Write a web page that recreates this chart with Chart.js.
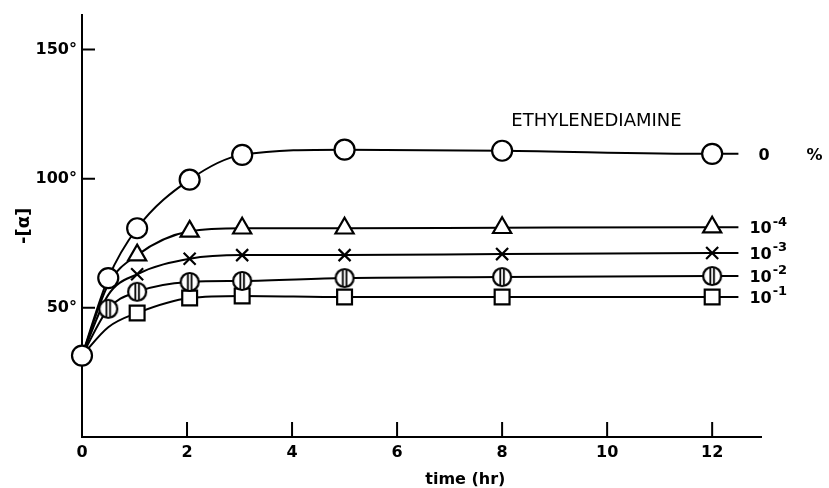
<!DOCTYPE html>
<html>
<head>
<meta charset="utf-8">
<script src="https://cdn.jsdelivr.net/npm/chart.js@4/dist/chart.umd.min.js"></script>
<style>
  body { margin: 0; background: #fff; }
</style>
</head>
<body>
<canvas id="myChart" width="829" height="488"></canvas>
<script>
// time in hours (marker columns) and where the drawn curves stop
var timeHr = [0, 0.5, 1.05, 2.05, 3.05, 5, 8, 12];
var lineEndHr = 12.5;

// -[alpha] in degrees, one array per ethylenediamine concentration
// null = curve does not pass that column
var rot0pct = [31.5, 61.5, 80.8, 99.6, 109.2, 111.2, 110.8, 109.6];
var rot1e4  = [31.5, 59.0, 70.4, 79.6, 80.8, 80.8, 81.0, 81.2];
var rot1e3  = [31.5, 55.0, 63.0, 69.0, 70.4, 70.4, 70.8, 71.2];
var rot1e2  = [31.5, 49.6, 56.2, 60.0, 60.4, 61.5, 61.9, 62.3];
var rot1e1  = [31.5, 42.5, 48.0, 53.8, 54.6, 54.2, 54.2, 54.2];

// first column that carries a drawn symbol for each series
var firstMarker = [0, 2, 2, 1, 2];
var concLabels = ["0", "-4", "-3", "-2", "-1"];

var xTicks = [0, 2, 4, 6, 8, 10, 12];
var yTicks = [50, 100, 150];

Chart.defaults.font.family = "'DejaVu Sans', sans-serif";
Chart.defaults.font.weight = 'bold';
Chart.defaults.color = "#000";

function barredCircle(r) {
    var s = Math.ceil(r * 2 + 4);
    var c = document.createElement('canvas');
    c.width = s; c.height = s;
    var g = c.getContext('2d');
    g.lineWidth = 2.2;
    g.strokeStyle = "#000";
    g.fillStyle = "#fff";
    g.beginPath();
    g.arc(s / 2, s / 2, r, 0, Math.PI * 2);
    g.fill();
    g.stroke();
    g.lineWidth = 1.8;
    g.beginPath();
    g.moveTo(s / 2 - 1.8, s / 2 - r); g.lineTo(s / 2 - 1.8, s / 2 + r);
    g.moveTo(s / 2 + 1.8, s / 2 - r); g.lineTo(s / 2 + 1.8, s / 2 + r);
    g.stroke();
    return c;
}

var series = [rot0pct, rot1e4, rot1e3, rot1e2, rot1e1];
var styles = [
    { pointStyle: 'circle', pointRadius: 10, order: 2 },
    { pointStyle: 'triangle', pointRadius: 10.5, order: 2 },
    { pointStyle: 'crossRot', pointRadius: 8.5, order: 2 },
    { pointStyle: barredCircle(9), pointRadius: 10, order: 1 },
    { pointStyle: 'rect', pointRadius: 10.5, order: 1.5 }
];

var datasets = [];
// the curves
series.forEach(function (vals) {
    var pts = [];
    vals.forEach(function (v, i) {
        if (v !== null) pts.push({ x: timeHr[i], y: v });
    });
    pts.push({ x: lineEndHr, y: vals[vals.length - 1] });
    datasets.push({
        data: pts,
        borderColor: "#000",
        borderWidth: 2,
        pointRadius: 0,
        cubicInterpolationMode: 'monotone',
        clip: false,
        order: 5
    });
});
// the symbols on top
series.forEach(function (vals, k) {
    var pts = [];
    vals.forEach(function (v, i) {
        if (v !== null && i >= firstMarker[k]) pts.push({ x: timeHr[i], y: v });
    });
    datasets.push({
        data: pts,
        showLine: false,
        pointStyle: styles[k].pointStyle,
        pointRadius: styles[k].pointRadius,
        pointBorderColor: "#000",
        pointBackgroundColor: "#fff",
        pointBorderWidth: 2.2,
        clip: false,
        order: styles[k].order
    });
});

var extras = {
    id: 'extras',
    beforeDatasetsDraw: function (chart) {
        var ctx = chart.ctx, area = chart.chartArea;
        var x = chart.scales.x, y = chart.scales.y;
        ctx.save();
        ctx.strokeStyle = "#000";
        ctx.lineWidth = 2;
        ctx.beginPath();
        xTicks.forEach(function (t) {
            if (t === 0) return;
            var px = x.getPixelForValue(t);
            ctx.moveTo(px, area.bottom);
            ctx.lineTo(px, area.bottom - 15);
        });
        yTicks.forEach(function (t) {
            var py = y.getPixelForValue(t);
            ctx.moveTo(area.left, py);
            ctx.lineTo(area.left + 13, py);
        });
        ctx.stroke();
        ctx.restore();
    },
    afterDraw: function (chart) {
        var ctx = chart.ctx;
        var x = chart.scales.x, y = chart.scales.y;
        var lx = x.getPixelForValue(lineEndHr) + 11;
        ctx.save();
        ctx.fillStyle = "#000";
        ctx.textBaseline = 'middle';
        ctx.textAlign = 'left';

        ctx.font = "18px 'DejaVu Sans'";
        ctx.fillText("ETHYLENEDIAMINE", x.getPixelForValue(8.1) + 4, y.getPixelForValue(122));

        ctx.textAlign = 'center';
        ctx.font = "bold 16px 'DejaVu Sans'";
        ctx.fillText("time (hr)", x.getPixelForValue(7.3), 480);

        ctx.textAlign = 'left';
        series.forEach(function (vals, k) {
            var py = y.getPixelForValue(vals[vals.length - 1]) + 2;
            if (k === 0) {
                ctx.font = "bold 16px 'DejaVu Sans'";
                ctx.fillText("0", lx + 9, py);
                ctx.fillText("%", lx + 57, py);
                return;
            }
            ctx.font = "bold 16px 'DejaVu Sans'";
            ctx.fillText("10", lx, py);
            var w = ctx.measureText("10").width;
            ctx.font = "bold 13px 'DejaVu Sans'";
            ctx.fillText(concLabels[k], lx + w + 1, py - 7);
        });
        ctx.restore();
    }
};

var ctx = document.getElementById('myChart').getContext('2d');
var chart = new Chart(ctx, {
    type: 'line',
    data: { datasets: datasets },
    options: {
        responsive: false,
        animation: false,
        layout: { padding: { top: 12, right: 68, bottom: 0, left: 0 } },
        plugins: { legend: { display: false }, tooltip: { enabled: false } },
        scales: {
            x: {
                type: 'linear',
                min: 0,
                max: 12.93,
                afterFit: function (s) { s.height = 51; },
                afterBuildTicks: function (s) { s.ticks = xTicks.map(function (v) { return { value: v }; }); },
                grid: { display: false, drawTicks: false },
                border: { display: true, color: "#000", width: 2 },
                ticks: { padding: 6, font: { size: 16 }, maxRotation: 0, autoSkip: false }
            },
            y: {
                min: 0,
                max: 163.5,
                afterFit: function (s) { s.width = 82; },
                afterBuildTicks: function (s) { s.ticks = yTicks.map(function (v) { return { value: v }; }); },
                grid: { display: false, drawTicks: false },
                border: { display: true, color: "#000", width: 2 },
                ticks: {
                    padding: 5,
                    font: { size: 16 },
                    callback: function (v) { return v + "°"; }
                },
                title: { display: true, text: "-[α]", font: { size: 18 }, padding: { top: 14, bottom: 0 } }
            }
        }
    },
    plugins: [extras]
});
</script>
</body>
</html>
